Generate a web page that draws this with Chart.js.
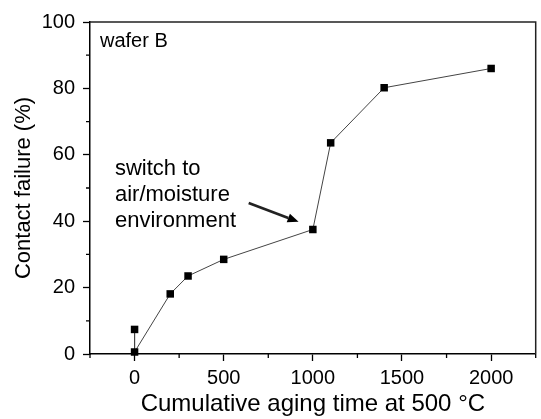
<!DOCTYPE html>
<html>
<head>
<meta charset="utf-8">
<script src="https://cdn.jsdelivr.net/npm/chart.js@4/dist/chart.umd.min.js"></script>
<style>
  body { margin: 0; background: #fff; }
</style>
</head>
<body>
<canvas id="graphe" width="541" height="419"></canvas>
<script>
// Données
const temps = [0, 0, 200, 300, 500, 1000, 1100, 1400, 2000];
const echec = [7.4, 0.6, 18.1, 23.5, 28.5, 37.5, 63.6, 80.2, 86.0];

// Graduations principales et secondaires
const ticksX = [0, 500, 1000, 1500, 2000];
const ticksY = [0, 20, 40, 60, 80, 100];
const mineursX = [-250, 250, 750, 1250, 1750, 2250];
const mineursY = [10, 30, 50, 70, 90];

// Annotations (en unités des axes)
const etiquette = "wafer B";
const note = ["switch to", "air/moisture", "environment"];
const fleche = {x1: 640, y1: 45.5, x2: 920, y2: 39.8};

const police = "'Liberation Sans', Arial, sans-serif";

const points = temps.map((t, i) => ({x: t, y: echec[i]}));

// Plugin pour le cadre, les petites graduations, les textes et la flèche
const decor = {
    id: 'decor',
    afterDraw(chart) {
        const ctx = chart.ctx;
        const a = chart.chartArea;
        const sx = chart.scales.x;
        const sy = chart.scales.y;
        ctx.save();

        //petites graduations
        ctx.strokeStyle = '#000';
        ctx.lineWidth = 1.3;
        ctx.beginPath();
        mineursX.forEach(v => {
            const px = sx.getPixelForValue(v);
            ctx.moveTo(px, a.bottom);
            ctx.lineTo(px, a.bottom + 4);
        });
        mineursY.forEach(v => {
            const py = sy.getPixelForValue(v);
            ctx.moveTo(a.left, py);
            ctx.lineTo(a.left - 4, py);
        });
        ctx.stroke();

        //cadre haut et droit
        ctx.strokeStyle = '#222';
        ctx.lineWidth = 1.5;
        ctx.beginPath();
        ctx.moveTo(a.left, a.top);
        ctx.lineTo(a.right, a.top);
        ctx.lineTo(a.right, a.bottom);
        ctx.stroke();

        //textes
        ctx.fillStyle = '#000';
        ctx.textBaseline = 'alphabetic';
        ctx.textAlign = 'left';
        ctx.font = "20px " + police;
        ctx.fillText(etiquette, sx.getPixelForValue(-194), sy.getPixelForValue(92.5));
        ctx.font = "22px " + police;
        const x0 = sx.getPixelForValue(-110);
        const y0 = sy.getPixelForValue(53.8);
        for (let i = 0; i < note.length; i++) {
            ctx.fillText(note[i], x0, y0 + i * 26);
        }

        //flèche
        const ax = sx.getPixelForValue(fleche.x1), ay = sy.getPixelForValue(fleche.y1);
        const bx = sx.getPixelForValue(fleche.x2), by = sy.getPixelForValue(fleche.y2);
        const ang = Math.atan2(by - ay, bx - ax);
        const L = 11, W = 4.5;
        const cx = bx - L * Math.cos(ang), cy = by - L * Math.sin(ang);
        ctx.lineWidth = 2.6;
        ctx.beginPath();
        ctx.moveTo(ax, ay);
        ctx.lineTo(cx, cy);
        ctx.stroke();
        ctx.beginPath();
        ctx.moveTo(bx, by);
        ctx.lineTo(cx + W * Math.sin(ang), cy - W * Math.cos(ang));
        ctx.lineTo(cx - W * Math.sin(ang), cy + W * Math.cos(ang));
        ctx.closePath();
        ctx.fill();

        ctx.restore();
    }
};

new Chart(document.getElementById('graphe').getContext('2d'), {
    type: 'scatter',
    data: {
        datasets: [{
            data: points,
            showLine: true,
            borderColor: '#444',
            borderWidth: 1,
            pointStyle: 'rect',
            pointRadius: 5.3,
            pointHoverRadius: 5.3,
            pointBackgroundColor: '#000',
            pointBorderColor: '#000',
            pointBorderWidth: 0,
            clip: false
        }]
    },
    options: {
        responsive: false,
        animation: false,
        layout: {padding: {top: 22, right: 1, left: 0, bottom: 0}},
        plugins: {
            legend: {display: false},
            tooltip: {enabled: false}
        },
        scales: {
            x: {
                type: 'linear',
                min: -250,
                max: 2250,
                afterBuildTicks: s => { s.ticks = ticksX.map(v => ({value: v})); },
                afterFit: s => { s.height = 65; },
                grid: {drawOnChartArea: false, tickLength: 7, color: '#000', tickWidth: 1.3},
                border: {display: true, color: '#000', width: 1.5},
                ticks: {
                    color: '#000', padding: 5, maxRotation: 0,
                    font: {size: 20, family: police},
                    callback: v => String(v)
                },
                title: {
                    display: true,
                    text: 'Cumulative aging time at 500 °C',
                    color: '#000',
                    padding: {top: 0, bottom: 0},
                    font: {size: 24, family: police}
                }
            },
            y: {
                min: 0,
                max: 100,
                afterBuildTicks: s => { s.ticks = ticksY.map(v => ({value: v})); },
                afterFit: s => { s.width = 90; },
                grid: {drawOnChartArea: false, tickLength: 7, color: '#000', tickWidth: 1.3},
                border: {display: true, color: '#000', width: 1.5},
                ticks: {
                    color: '#000', padding: 8,
                    font: {size: 20, family: police},
                    callback: v => String(v)
                },
                title: {
                    display: true,
                    text: 'Contact failure (%)',
                    color: '#000',
                    padding: {top: 11, bottom: 0},
                    font: {size: 22, family: police}
                }
            }
        }
    },
    plugins: [decor]
});
</script>
</body>
</html>
